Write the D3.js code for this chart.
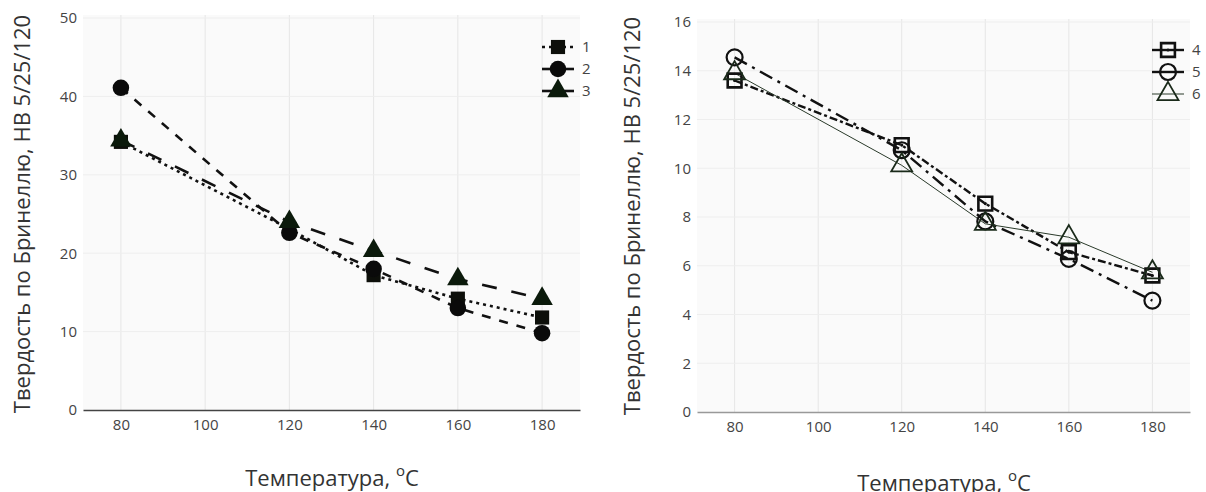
<!DOCTYPE html>
<html>
<head>
<meta charset="utf-8">
<script src="https://cdn.jsdelivr.net/npm/d3@7"></script>
<style>
  body { margin: 0; background: #fff; }
  svg { display: block; font-family: "Open Sans", sans-serif; }
</style>
</head>
<body>
<script>
// данные
var temps = [80, 120, 140, 160, 180];
var xTicks = [80, 100, 120, 140, 160, 180];
var leftTicks = [0, 10, 20, 30, 40, 50];
var rightTicks = [0, 2, 4, 6, 8, 10, 12, 14, 16];

var s1 = [34.2, 23.1, 17.2, 14.2, 11.8];
var s2 = [41.1, 22.6, 18.0, 13.0, 9.8];
var s3 = [34.4, 24.0, 20.3, 16.7, 14.2];
var s4 = [13.6, 10.95, 8.55, 6.56, 5.6];
var s5 = [14.55, 10.74, 7.82, 6.28, 4.57];
var s6 = [13.9, 10.12, 7.72, 7.17, 5.73];

var names = ["1", "2", "3", "4", "5", "6"];

var W = 1206, H = 492;
var svg = d3.select("body").append("svg").attr("width", W).attr("height", H);

function panel(opt) {
  var x = d3.scaleLinear().domain([71, 189]).range([opt.left, opt.right]);
  var y = d3.scaleLinear().domain([0, opt.ymax]).range([opt.bottom, opt.top]);
  var g = svg.append("g");

  g.append("rect").attr("x", opt.left).attr("y", opt.top - 3)
    .attr("width", opt.right - opt.left).attr("height", opt.bottom - opt.top + 3)
    .attr("fill", "#fafafa");

  // сетка
  g.append("g").selectAll("line").data(xTicks).enter().append("line")
    .attr("x1", function (d) { return x(d); }).attr("x2", function (d) { return x(d); })
    .attr("y1", opt.top - 3).attr("y2", opt.bottom)
    .attr("stroke", "#e6e6e6").attr("stroke-width", 1);
  g.append("g").selectAll("line").data(opt.yticks.slice(1)).enter().append("line")
    .attr("x1", opt.left).attr("x2", opt.right)
    .attr("y1", function (d) { return y(d); }).attr("y2", function (d) { return y(d); })
    .attr("stroke", "#eeeeee").attr("stroke-width", 1);

  var ax = g.append("g").attr("transform", "translate(0," + opt.bottom + ")")
    .call(d3.axisBottom(x).tickValues(xTicks).tickSize(0).tickPadding(9));
  ax.select(".domain").attr("stroke", opt.axisColor).attr("stroke-width", 1.3);
  ax.selectAll("text").attr("font-size", 15).attr("fill", "#444").attr("font-family", "Open Sans");

  var ay = g.append("g").attr("transform", "translate(" + (opt.left - 3) + ",0)")
    .call(d3.axisLeft(y).tickValues(opt.yticks).tickSize(0).tickPadding(3));
  ay.select(".domain").remove();
  ay.selectAll("text").attr("font-size", 15).attr("fill", "#444").attr("font-family", "Open Sans");

  g.append("text")
    .attr("transform", "translate(" + opt.ytitleX + "," + opt.ytitleY + ") rotate(-90)")
    .attr("text-anchor", "middle").attr("font-size", 22).attr("fill", "#333")
    .text("Твердость по Бринеллю, НВ 5/25/120");

  var xt = g.append("text").attr("x", opt.xtitleX).attr("y", opt.xtitleY)
    .attr("text-anchor", "middle").attr("font-size", 22).attr("fill", "#333");
  xt.append("tspan").text("Температура, ");
  xt.append("tspan").attr("baseline-shift", "super").attr("font-size", 15).text("o");
  xt.append("tspan").text("C");

  var line = d3.line().x(function (d, i) { return x(temps[i]); }).y(function (d) { return y(d); });

  opt.series.forEach(function (s) {
    g.append("path").datum(s.values).attr("d", line).attr("fill", "none")
      .attr("stroke", s.lineColor).attr("stroke-width", s.width)
      .attr("stroke-dasharray", s.dash);
  });
  opt.series.forEach(function (s) {
    g.selectAll(null).data(s.values).enter().each(function (d, i) {
      marker(g, s, x(temps[i]), y(d));
    });
  });

  // легенда
  opt.series.forEach(function (s, k) {
    var ly = opt.legY + k * 22;
    g.append("line").attr("x1", opt.legX).attr("x2", opt.legX + 32)
      .attr("y1", ly).attr("y2", ly)
      .attr("stroke", s.lineColor).attr("stroke-width", s.width)
      .attr("stroke-dasharray", s.legDash);
    marker(g, s, opt.legX + 16, ly);
    g.append("text").attr("x", opt.legX + 40).attr("y", ly + 5)
      .attr("font-size", 15).attr("fill", "#444").text(s.name);
  });
}

function marker(g, s, cx, cy) {
  g.append("path")
    .attr("d", d3.symbol().type(s.symbol).size(s.size)())
    .attr("transform", "translate(" + cx + "," + cy + ")")
    .attr("fill", s.fill).attr("stroke", s.stroke).attr("stroke-width", s.mw);
  if (s.dot) {
    g.append("circle").attr("cx", cx).attr("cy", cy).attr("r", 1.6).attr("fill", s.stroke);
  }
}

panel({
  left: 83, right: 580, top: 18, bottom: 410, ymax: 50, yticks: leftTicks,
  axisColor: "#444", ytitleX: 30, ytitleY: 214, xtitleX: 332, xtitleY: 486,
  legX: 542, legY: 47,
  series: [
    { name: names[0], values: s1, symbol: d3.symbolSquare, size: 200, fill: "#0d0f0a", stroke: "#0d0f0a", mw: 0,
      lineColor: "#111", width: 2.6, dash: "3,4", legDash: "3,4" },
    { name: names[1], values: s2, symbol: d3.symbolCircle, size: 215, fill: "#0a0a0a", stroke: "#0a0a0a", mw: 0,
      lineColor: "#111", width: 2.6, dash: "9,9", legDash: "none" },
    { name: names[2], values: s3, symbol: d3.symbolTriangle, size: 200, fill: "#0b1a0b", stroke: "#0b1a0b", mw: 0,
      lineColor: "#111", width: 2.6, dash: "15,15", legDash: "none" }
  ]
});

panel({
  left: 697, right: 1190, top: 22, bottom: 412, ymax: 16, yticks: rightTicks,
  axisColor: "#999", ytitleX: 640, ytitleY: 216, xtitleX: 944, xtitleY: 491,
  legX: 1152, legY: 50,
  series: [
    { name: names[3], values: s4, symbol: d3.symbolSquare, size: 190, fill: "none", stroke: "#111", mw: 2.6, dot: true,
      lineColor: "#111", width: 2.4, dash: "8,3,3,3", legDash: "none" },
    { name: names[4], values: s5, symbol: d3.symbolCircle, size: 200, fill: "none", stroke: "#111", mw: 2.2,
      lineColor: "#111", width: 2.4, dash: "14,6,3,6", legDash: "none" },
    { name: names[5], values: s6, symbol: d3.symbolTriangle, size: 190, fill: "none", stroke: "#1a2a1a", mw: 1.8,
      lineColor: "#2a3a2a", width: 1, dash: "none", legDash: "none" }
  ]
});
</script>
</body>
</html>
